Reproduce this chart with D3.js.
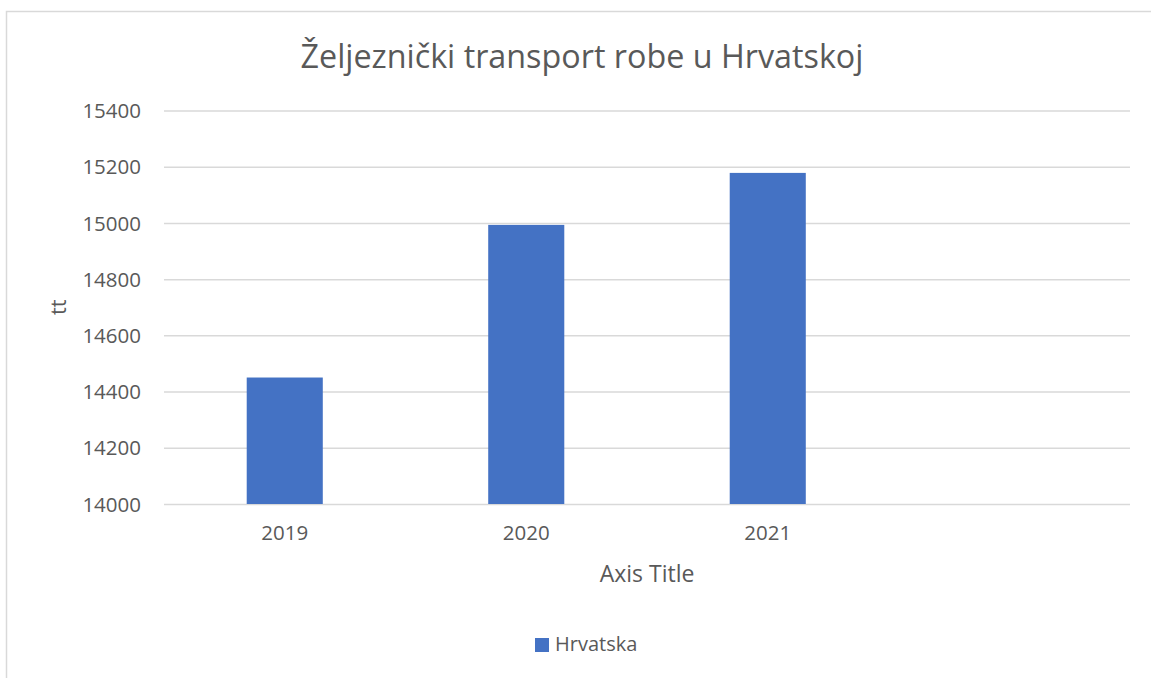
<!DOCTYPE html>
<html>
<head>
<meta charset="utf-8">
<script src="https://cdn.jsdelivr.net/npm/d3@7"></script>
<style>
  html, body { margin: 0; padding: 0; background: #fff; }
  svg text { font-family: "Open Sans", "Noto Sans", sans-serif; fill: #595959; }
</style>
</head>
<body>
<div id="chart"></div>
<script>
const categories = ["2019", "2020", "2021", ""];
const values = [14450, 14993, 15178];
const yTicks = [14000, 14200, 14400, 14600, 14800, 15000, 15200, 15400];
const seriesName = "Hrvatska";
const chartTitle = "Željeznički transport robe u Hrvatskoj";

const width = 1151, height = 678;
const plot = { left: 164, right: 1130, top: 110.5, bottom: 504 };

const svg = d3.select("#chart")
  .append("svg")
  .attr("width", width)
  .attr("height", height);

// chart frame (right/bottom edges fall outside the picture)
svg.append("rect")
  .attr("x", 6.5)
  .attr("y", 11.5)
  .attr("width", 1160)
  .attr("height", 700)
  .style("fill", "#fff")
  .style("stroke", "#d9d9d9")
  .style("stroke-width", 1.5);

const x = d3.scaleBand()
  .domain(categories)
  .range([plot.left, plot.right])
  .paddingInner(0.685)
  .paddingOuter(0.3425);

const y = d3.scaleLinear()
  .domain([14000, 15400])
  .range([plot.bottom, plot.top]);

// gridlines + y labels
svg.append("g")
  .attr("transform", `translate(${plot.left},0)`)
  .call(d3.axisLeft(y).tickValues(yTicks).tickSize(-(plot.right - plot.left)).tickPadding(23).tickFormat(d3.format("d")))
  .call(g => g.select(".domain").remove())
  .call(g => g.selectAll("line").style("stroke", "#d9d9d9").style("stroke-width", 1.5))
  .call(g => g.selectAll("text").style("font-size", "20.5px").style("fill", "#595959").attr("dy", "0.35em"));

// bars
svg.selectAll("rect.bar")
  .data(values)
  .join("rect")
  .attr("class", "bar")
  .attr("x", (d, i) => x(categories[i]))
  .attr("y", d => y(d))
  .attr("width", x.bandwidth())
  .attr("height", d => y(14000) - y(d))
  .style("fill", "#4472c4");

// x labels
svg.append("g")
  .attr("transform", `translate(0,${plot.bottom})`)
  .call(d3.axisBottom(x).tickSize(0).tickPadding(21))
  .call(g => g.select(".domain").remove())
  .call(g => g.selectAll("text").style("font-size", "20.5px").style("fill", "#595959").attr("dy", "0.71em"));

// title
svg.append("text")
  .attr("x", 582)
  .attr("y", 68)
  .attr("text-anchor", "middle")
  .style("font-size", "32.3px")
  .text(chartTitle);

// axis titles
svg.append("text")
  .attr("x", (plot.left + plot.right) / 2)
  .attr("y", 582)
  .attr("text-anchor", "middle")
  .style("font-size", "23px")
  .text("Axis Title");

svg.append("text")
  .attr("transform", `translate(66,${(plot.top + plot.bottom) / 2}) rotate(-90)`)
  .attr("text-anchor", "middle")
  .style("font-size", "22px")
  .text("tt");

// legend
const legend = svg.append("g").attr("transform", "translate(535,638)");
legend.append("rect")
  .attr("width", 14)
  .attr("height", 14)
  .style("fill", "#4472c4");
legend.append("text")
  .attr("x", 20)
  .attr("y", 13)
  .style("font-size", "20px")
  .text(seriesName);
</script>
</body>
</html>
